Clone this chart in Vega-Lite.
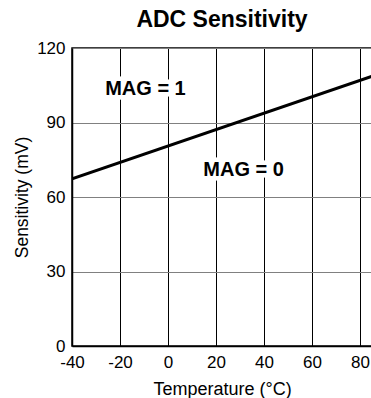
{
  "$schema": "https://vega.github.io/schema/vega-lite/v6.json",
  "autosize": {"type": "none"},
  "width": 300,
  "height": 298,
  "padding": {"left": 72, "top": 48, "right": 0, "bottom": 52},
  "background": "white",
  "title": {
    "text": "ADC Sensitivity",
    "font": "Liberation Sans",
    "fontSize": 23,
    "fontWeight": "bold",
    "color": "black",
    "anchor": "middle",
    "frame": "group",
    "offset": 7
  },
  "config": {
    "view": {"stroke": "black", "strokeWidth": 1.5},
    "axis": {
      "labelFont": "Liberation Sans",
      "labelFontSize": 17,
      "labelColor": "black",
      "titleFont": "Liberation Sans",
      "titleFontSize": 17.5,
      "titleFontWeight": "normal",
      "titleColor": "black",
      "ticks": false,
      "domainColor": "black",
      "domainWidth": 1.5,
      "gridOpacity": 1,
      "gridWidth": 1
    }
  },
  "datasets": {
    "curve": [
      {"temp": -40, "sens": 67.3},
      {"temp": 85, "sens": 108.6}
    ],
    "labels": [
      {"temp": -9.4, "sens": 103.4, "label": "MAG = 1"},
      {"temp": 31.5, "sens": 70.9, "label": "MAG = 0"}
    ]
  },
  "layer": [
    {
      "data": {"name": "curve"},
      "mark": {"type": "line", "color": "black", "strokeWidth": 3, "clip": true},
      "encoding": {
        "x": {
          "field": "temp",
          "type": "quantitative",
          "scale": {"domain": [-40, 85], "nice": false, "zero": false},
          "axis": {
            "values": [-40, -20, 0, 20, 40, 60, 80],
            "labelExpr": "'' + datum.value",
            "title": "Temperature (°C)",
            "titleFontSize": 18,
            "grid": true,
            "gridColor": "black",
            "labelPadding": 8,
            "titlePadding": 10,
            "labelFlush": false
          }
        },
        "y": {
          "field": "sens",
          "type": "quantitative",
          "scale": {"domain": [0, 120], "nice": false},
          "axis": {
            "values": [0, 30, 60, 90, 120],
            "title": "Sensitivity (mV)",
            "grid": true,
            "gridColor": "#808080",
            "labelPadding": 7,
            "titlePadding": 5
          }
        }
      }
    },
    {
      "data": {"name": "labels"},
      "mark": {
        "type": "text",
        "font": "Liberation Sans",
        "fontSize": 20,
        "fontWeight": "bold",
        "stroke": "white",
        "strokeWidth": 9,
        "strokeJoin": "round",
        "fill": "white",
        "align": "center",
        "baseline": "middle"
      },
      "encoding": {
        "x": {"field": "temp", "type": "quantitative"},
        "y": {"field": "sens", "type": "quantitative"},
        "text": {"field": "label"}
      }
    },
    {
      "data": {"name": "labels"},
      "mark": {
        "type": "text",
        "font": "Liberation Sans",
        "fontSize": 20,
        "fontWeight": "bold",
        "fill": "black",
        "align": "center",
        "baseline": "middle"
      },
      "encoding": {
        "x": {"field": "temp", "type": "quantitative"},
        "y": {"field": "sens", "type": "quantitative"},
        "text": {"field": "label"}
      }
    }
  ]
}
